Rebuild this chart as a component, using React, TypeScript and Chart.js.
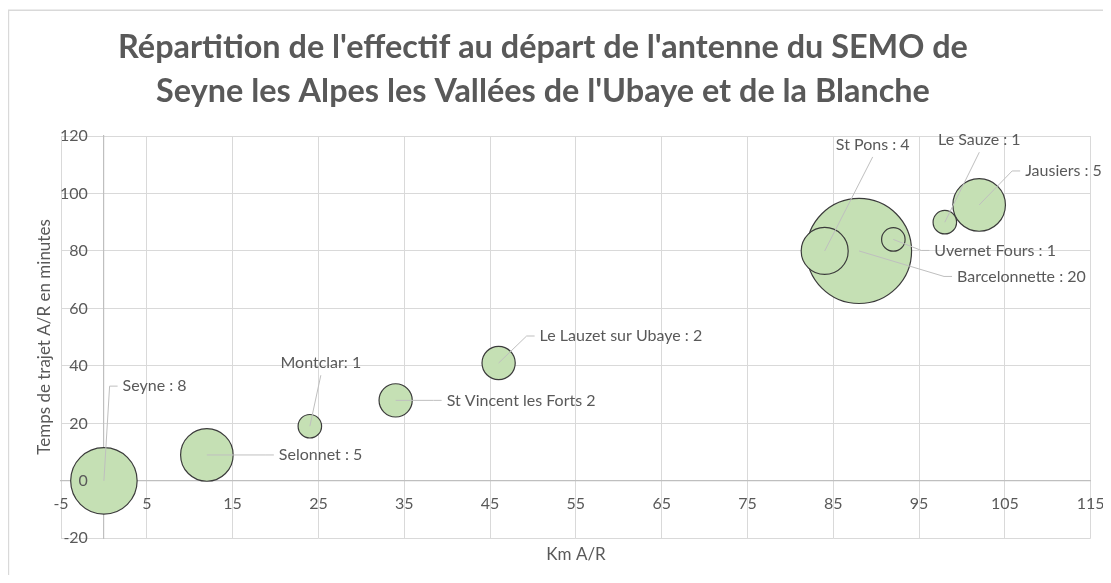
import React, { useEffect, useRef } from 'react';
import { Chart, registerables } from 'chart.js';

Chart.register(...registerables);

// ---- Data ----
const places = ['Seyne', 'Selonnet', 'Montclar', 'St Vincent les Forts', 'Le Lauzet sur Ubaye', 'Barcelonnette', 'St Pons', 'Uvernet Fours', 'Le Sauze', 'Jausiers'];
const kmAR = [0, 12, 24, 34, 46, 88, 84, 92, 98, 102];
const minutesAR = [0, 9, 19, 28, 41, 80, 80, 84, 90, 96];
const effectif = [8, 5, 1, 2, 2, 20, 4, 1, 1, 5];
const dataLabels = ['Seyne : 8', 'Selonnet : 5', 'Montclar: 1', 'St Vincent les Forts 2', 'Le Lauzet sur Ubaye : 2', 'Barcelonnette : 20', 'St Pons : 4', 'Uvernet Fours : 1', 'Le Sauze : 1', 'Jausiers : 5'];
const xTickValues = [-5, 5, 15, 25, 35, 45, 55, 65, 75, 85, 95, 105, 115];
const yTickValues = [-20, 0, 20, 40, 60, 80, 100, 120];
const titleLines = ["Répartition de l'effectif au départ de l'antenne du SEMO de", "Seyne les Alpes les Vallées de l'Ubaye et de la Blanche"];
const xAxisTitle = 'Km A/R';
const yAxisTitle = 'Temps de trajet A/R en minutes';

// ---- Label placement (pixel offsets from bubble centre; style, not data) ----
const labelPlacement = [
  { dx: 18.7, dy: -94.7, mode: 'right' },
  { dx: 72, dy: 0, mode: 'right' },
  { dx: 11, dy: -63, mode: 'above' },
  { dx: 51, dy: 0, mode: 'right' },
  { dx: 41, dy: -27, mode: 'right' },
  { dx: 98, dy: 25.5, mode: 'right' },
  { dx: 48, dy: -106, mode: 'above' },
  { dx: 41, dy: 11, mode: 'right' },
  { dx: 34.5, dy: -82, mode: 'above' },
  { dx: 46, dy: -34, mode: 'right' },
];

const TEXT = '#595959';
const FONT = 'Lato';
const BUBBLE_K = 11.75; // px per sqrt(unit)
const W = 1103;
const H = 567;

const zeroFit = (horizontal: boolean) => (s: any) => {
  if (horizontal) s.height = 0; else s.width = 0;
  s.paddingLeft = 0;
  s.paddingRight = 0;
  s.paddingTop = 0;
  s.paddingBottom = 0;
};

const decorPlugin = {
  id: 'decor',
  beforeDraw(chart: any) {
    const ctx = chart.ctx;
    ctx.save();
    ctx.fillStyle = '#ffffff';
    ctx.fillRect(0, 0, chart.width, chart.height);
    ctx.strokeStyle = '#d9d9d9';
    ctx.lineWidth = 1.6;
    ctx.beginPath();
    ctx.moveTo(0.4, chart.height + 5);
    ctx.lineTo(0.4, 2.2);
    ctx.lineTo(chart.width + 5, 2.2);
    ctx.stroke();
    ctx.restore();
  },
  afterDatasetsDraw(chart: any) {
    const ctx = chart.ctx;
    const xs = chart.scales.x;
    const ys = chart.scales.y;
    ctx.save();
    // y tick labels, placed left of the value axis (which crosses at x = 0)
    ctx.font = `16px ${FONT}`;
    ctx.fillStyle = TEXT;
    ctx.textAlign = 'right';
    ctx.textBaseline = 'middle';
    const axisX = xs.getPixelForValue(0);
    for (const v of yTickValues) {
      ctx.fillText(String(v), axisX - 16, ys.getPixelForValue(v));
    }
    // data labels with leader lines
    ctx.font = `16px ${FONT}`;
    for (let i = 0; i < places.length; i++) {
      const cx = xs.getPixelForValue(kmAR[i]);
      const cy = ys.getPixelForValue(minutesAR[i]);
      const p = labelPlacement[i];
      const tx = cx + p.dx;
      const ty = cy + p.dy;
      ctx.strokeStyle = '#bfbfbf';
      ctx.lineWidth = 1;
      ctx.beginPath();
      if (p.mode === 'right') {
        ctx.moveTo(cx, cy);
        ctx.lineTo(tx - 13, ty);
        ctx.lineTo(tx - 5, ty);
      } else {
        ctx.moveTo(cx, cy);
        ctx.lineTo(tx, ty + 12);
      }
      ctx.stroke();
      ctx.fillStyle = TEXT;
      ctx.textBaseline = 'middle';
      ctx.textAlign = p.mode === 'right' ? 'left' : 'center';
      ctx.fillText(dataLabels[i], tx, ty);
    }
    ctx.restore();
  },
  afterDraw(chart: any) {
    const ctx = chart.ctx;
    ctx.save();
    ctx.fillStyle = TEXT;
    ctx.textAlign = 'center';
    ctx.textBaseline = 'middle';
    ctx.font = `bold 32.4px ${FONT}`;
    ctx.fillText(titleLines[0], 535, 40);
    ctx.fillText(titleLines[1], 535, 84);
    ctx.font = `17px ${FONT}`;
    ctx.fillText(xAxisTitle, 568, 547);
    ctx.translate(37, 329);
    ctx.rotate(-Math.PI / 2);
    ctx.fillText(yAxisTitle, 0, 0);
    ctx.restore();
  },
};

export default function App() {
  const ref = useRef<HTMLCanvasElement>(null);
  useEffect(() => {
    if (!ref.current) return;
    const order = places.map((_, i) => i).sort((a, b) => effectif[b] - effectif[a]);
    const points = order.map((i) => ({ x: kmAR[i], y: minutesAR[i], r: Math.sqrt(effectif[i]) * BUBBLE_K }));
    const chart = new Chart(ref.current, {
      type: 'bubble',
      data: {
        datasets: [
          {
            label: 'Effectif',
            data: points,
            backgroundColor: '#c5e0b4',
            borderColor: '#3b3b3b',
            borderWidth: 1.2,
          },
        ],
      },
      options: {
        responsive: false,
        animation: false,
        layout: { autoPadding: false, padding: { left: 53, right: W - 1082.7, top: 128, bottom: 36.7 } },
        plugins: { legend: { display: false }, title: { display: false }, tooltip: { enabled: false } },
        scales: {
          x: {
            type: 'linear',
            min: -5,
            max: 115,
            position: { y: 0 } as any,
            afterBuildTicks: (s: any) => { s.ticks = xTickValues.map((v) => ({ value: v })); },
            afterFit: zeroFit(true),
            grid: { color: '#d9d9d9', lineWidth: 1, drawTicks: false },
            border: { display: true, color: '#bfbfbf', width: 1.2 },
            ticks: { color: TEXT, font: { family: FONT, size: 16 }, padding: 13, autoSkip: false, maxRotation: 0 },
          },
          y: {
            type: 'linear',
            min: -20,
            max: 120,
            position: { x: 0 } as any,
            afterBuildTicks: (s: any) => { s.ticks = yTickValues.map((v) => ({ value: v })); },
            afterFit: zeroFit(false),
            grid: { color: '#d9d9d9', lineWidth: 1, drawTicks: false },
            border: { display: true, color: '#bfbfbf', width: 1.2 },
            ticks: { display: false },
          },
        },
      },
      plugins: [decorPlugin],
    });
    return () => chart.destroy();
  }, []);
  return (
    <div style={{ width: W, height: H }}>
      <canvas ref={ref} width={W} height={H} style={{ display: 'block', width: W, height: H }} />
    </div>
  );
}
